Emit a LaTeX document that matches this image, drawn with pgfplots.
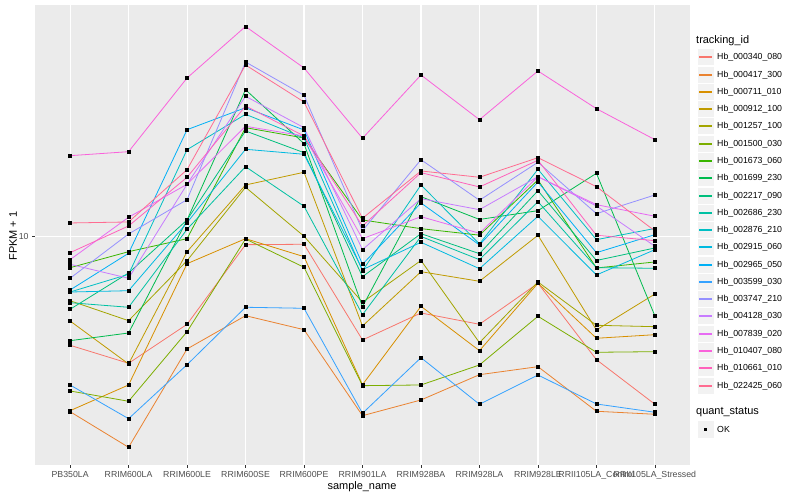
\documentclass[border=0pt]{standalone}
\usepackage{pgfplots}
\pgfplotsset{compat=1.18}
\usepackage{pgfplotstable}
\usepackage{fontspec}
\setmainfont{Liberation Sans}

\definecolor{panelgray}{HTML}{EBEBEB}
\definecolor{keygray}{HTML}{F2F2F2}
\definecolor{gray30}{HTML}{4D4D4D}
\definecolor{tickgray}{HTML}{333333}
% ggplot hue palette, 20 levels
\definecolor{c1}{HTML}{F8766D}
\definecolor{c2}{HTML}{EA8331}
\definecolor{c3}{HTML}{D89000}
\definecolor{c4}{HTML}{C09B00}
\definecolor{c5}{HTML}{A3A500}
\definecolor{c6}{HTML}{7CAE00}
\definecolor{c7}{HTML}{39B600}
\definecolor{c8}{HTML}{00BB4E}
\definecolor{c9}{HTML}{00BF7D}
\definecolor{c10}{HTML}{00C1A3}
\definecolor{c11}{HTML}{00BFC4}
\definecolor{c12}{HTML}{00BAE0}
\definecolor{c13}{HTML}{00B0F6}
\definecolor{c14}{HTML}{35A2FF}
\definecolor{c15}{HTML}{9590FF}
\definecolor{c16}{HTML}{C77CFF}
\definecolor{c17}{HTML}{E76BF3}
\definecolor{c18}{HTML}{FA62DB}
\definecolor{c19}{HTML}{FF62BC}
\definecolor{c20}{HTML}{FF6C91}

% log10(FPKM + 1), one column per tracking_id, one row per sample
\pgfplotstableread{
x s1 s2 s3 s4 s5 s6 s7 s8 s9 s10 s11 s12 s13 s14 s15 s16 s17 s18 s19 s20
0 0.7820 0.6492 0.6512 0.8306 0.8712 0.6906 0.9372 0.7912 0.8540 0.8672 0.8886 0.8886 0.8926 0.7026 0.9160 0.9440 0.9532 1.1612 0.9672 1.0266
1 0.7460 0.5780 0.7026 0.7446 0.8312 0.6700 0.9692 0.8066 0.9266 0.8580 0.9240 0.8912 0.9660 0.6352 1.0046 0.9160 1.0380 1.1692 1.0206 1.0286
2 0.8240 0.7746 0.9452 0.9692 0.9512 0.8092 0.9952 1.0326 1.0326 1.0140 1.1732 1.0272 1.2132 0.7432 1.0732 1.1040 1.1040 1.3166 1.1180 1.1332
3 0.9832 0.8412 0.9952 1.1026 1.0980 0.9946 1.2172 1.2932 1.2106 1.1392 1.2440 1.1740 1.2572 0.8580 1.3486 1.2800 1.2200 1.4196 1.2606 1.3426
4 0.9840 0.8132 0.9592 1.1280 1.0000 0.9380 1.1966 1.1852 1.1672 1.0600 1.1966 1.1640 1.2126 0.8560 1.2820 1.2172 1.2006 1.3366 1.2006 1.2686
5 0.7926 0.6412 0.7032 0.8206 0.8680 0.7012 1.0326 0.8592 0.9192 0.8432 0.9312 0.9332 0.9440 0.6460 1.0112 0.9732 0.9952 1.1960 1.0206 1.0360
6 0.8466 0.6726 0.8600 0.9292 0.9516 0.7026 1.0152 1.0792 1.0052 0.9996 1.1026 0.9880 1.0666 0.7572 1.1532 1.0752 1.0392 1.3226 1.1272 1.1306
7 0.8240 0.7232 0.7712 0.9100 0.7872 0.7426 1.0022 1.0336 0.9652 0.9532 0.9846 0.9352 0.9826 0.6640 1.0720 1.0532 1.0060 1.2332 1.0986 1.1180
8 0.9060 0.7392 0.9060 1.0020 0.9086 0.8400 1.1126 1.0512 1.0912 1.0692 1.1340 1.0400 1.1086 0.7226 1.1480 1.1192 1.1192 1.3306 1.1520 1.1572
9 0.7532 0.6500 0.7960 0.8126 0.8220 0.7680 0.9366 1.1260 0.9516 0.9372 0.9932 0.9226 0.9672 0.6646 1.0452 1.0606 1.0632 1.2552 1.0020 1.0992
10 0.6640 0.6440 0.8032 0.8846 0.8192 0.7692 0.9486 0.8406 0.9766 0.9360 1.0156 0.9732 1.0032 0.6480 1.0826 0.9800 1.0400 1.1932 0.9912 1.0106
}\fpkm

\newcommand\ticfont{\fontsize{8.8pt}{10pt}\selectfont}
\newcommand\titfont{\fontsize{11pt}{13pt}\selectfont}

\begin{document}
\begin{tikzpicture}
\useasboundingbox (0,0) rectangle (800bp,500bp);
\begin{axis}[
  at={(35bp,35bp)}, anchor=south west,
  width=655bp, height=460bp, scale only axis,
  ymode=log, ymin=3.488, ymax=29.01,
  xmin=-0.6, xmax=10.6,
  xtick={0,...,10},
  xticklabels={PB350LA,RRIM600LA,RRIM600LE,RRIM600SE,RRIM600PE,RRIM901LA,RRIM928BA,RRIM928LA,RRIM928LE,RRII105LA\_Control,RRII105LA\_Stressed},
  ytick={10}, yticklabels={10}, yminorticks=false,
  axis background/.style={fill=panelgray},
  axis line style={draw=none},
  grid=major, major grid style={white, line width=1.1bp},
  tick align=outside, major tick length=2.75bp,
  tick style={color=tickgray, line width=0.5bp},
  xtick pos=lower, ytick pos=left,
  ticklabel style={font=\ticfont, text=gray30},
  line width=0.8bp,
]
\pgfplotsinvokeforeach{1,...,20}{
  \addplot[draw=c#1, no marks] table[x=x, y expr=10^\thisrow{s#1}] {\fpkm};
}
\pgfplotsinvokeforeach{1,...,20}{
  \addplot[only marks, mark=square*, mark size=1.5bp, black] table[x=x, y expr=10^\thisrow{s#1}] {\fpkm};
}
\end{axis}

% axis titles
\node[font=\titfont] at (362bp,13bp) {sample\_name};
\node[font=\titfont, rotate=90] at (13bp,264bp) {FPKM + 1};

% legend: key lines as small filled bars on whole pixel rows
\node[font=\titfont, anchor=west, inner sep=0pt] at (696bp,459.5bp) {tracking\_id};
\foreach \lab/\lcol [count=\i from 0] in {
  Hb\_000340\_080/c1, Hb\_000417\_300/c2, Hb\_000711\_010/c3, Hb\_000912\_100/c4,
  Hb\_001257\_100/c5, Hb\_001500\_030/c6, Hb\_001673\_060/c7, Hb\_001699\_230/c8,
  Hb\_002217\_090/c9, Hb\_002686\_230/c10, Hb\_002876\_210/c11, Hb\_002915\_060/c12,
  Hb\_002965\_050/c13, Hb\_003599\_030/c14, Hb\_003747\_210/c15, Hb\_004128\_030/c16,
  Hb\_007839\_020/c17, Hb\_010407\_080/c18, Hb\_010661\_010/c19, Hb\_022425\_060/c20}{
  \pgfmathsetmacro\yy{round(442.7-17.28*\i)}
  \filldraw[fill=keygray, draw=white, line width=0.6bp] (697bp,\yy bp-8.64bp) rectangle (714bp,\yy bp+8.64bp);
  \fill[fill=\lcol] (699bp,\yy bp-1bp) rectangle (712bp,\yy bp+1bp);
  \node[font=\ticfont, anchor=west, inner sep=0pt] at (717bp,\yy bp) {\lab};
}
\node[font=\titfont, anchor=west, inner sep=0pt] at (696bp,87.7bp) {quant\_status};
\filldraw[fill=keygray, draw=white, line width=0.6bp] (697bp,62.1bp) rectangle (714bp,79.3bp);
\fill[black] (704bp,69bp) rectangle (707bp,72bp);
\node[font=\ticfont, anchor=west, inner sep=0pt] at (717bp,70.5bp) {OK};
\end{tikzpicture}
\end{document}
